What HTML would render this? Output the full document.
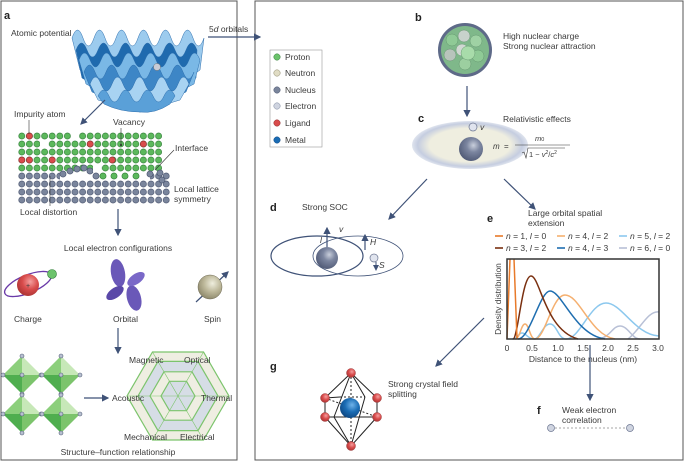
<!DOCTYPE html>
<html><head><meta charset="utf-8"><style>
html,body{margin:0;padding:0;background:#fff}
svg{display:block}
text{font-family:"Liberation Sans",sans-serif;font-size:8.5px;fill:#3a3a3a}
.b{font-weight:bold;font-size:11px;fill:#222}
</style></head><body>
<svg width="685" height="461" viewBox="0 0 685 461" xmlns="http://www.w3.org/2000/svg">
<defs>
<marker id="ar" markerWidth="6" markerHeight="6" refX="5" refY="3" orient="auto"><path d="M0,0 L6,3 L0,6 z" fill="#3f5277"/></marker>
<pattern id="gp" x="18" y="132" width="7.6" height="8" patternUnits="userSpaceOnUse"><circle cx="3.8" cy="4" r="3.1" fill="#5cb85c" stroke="#2f7a36" stroke-width="0.6"/></pattern>
<pattern id="bp" x="18" y="172" width="7.6" height="8" patternUnits="userSpaceOnUse"><circle cx="3.8" cy="4" r="3.1" fill="#7a859c" stroke="#46506a" stroke-width="0.6"/></pattern>
<radialGradient id="nuc" cx="0.6" cy="0.35" r="0.7"><stop offset="0" stop-color="#c9cfdc"/><stop offset="0.4" stop-color="#7c86a0"/><stop offset="1" stop-color="#4e5874"/></radialGradient>
<radialGradient id="met" cx="0.6" cy="0.35" r="0.7"><stop offset="0" stop-color="#6fb3ea"/><stop offset="0.5" stop-color="#1a6cb4"/><stop offset="1" stop-color="#0e4680"/></radialGradient>
<radialGradient id="red" cx="0.6" cy="0.35" r="0.7"><stop offset="0" stop-color="#f4a0a0"/><stop offset="0.5" stop-color="#d94c4c"/><stop offset="1" stop-color="#a83232"/></radialGradient>
<radialGradient id="spin" cx="0.6" cy="0.35" r="0.7"><stop offset="0" stop-color="#efeede"/><stop offset="0.5" stop-color="#bdb89a"/><stop offset="1" stop-color="#8a8568"/></radialGradient>
<radialGradient id="halo" cx="0.5" cy="0.5" r="0.5"><stop offset="0.7" stop-color="#efeee0"/><stop offset="0.9" stop-color="#c5cde0"/><stop offset="1" stop-color="#dfe4ee"/></radialGradient>
</defs>

<!-- panel borders -->
<rect x="1" y="1" width="236" height="459" fill="none" stroke="#555" stroke-width="1"/>
<rect x="255" y="1" width="428" height="459" fill="none" stroke="#555" stroke-width="1"/>

<!-- ===== Panel a ===== -->
<text x="4" y="19" class="b">a</text>
<text x="11" y="36">Atomic potential</text>
<text x="209" y="32">5<tspan font-style="italic">d</tspan> orbitals</text>
<line x1="208" y1="37" x2="260" y2="37" stroke="#3f5277" stroke-width="1.2" marker-end="url(#ar)"/>

<!-- wavy potential -->
<g stroke="#2e6fae" stroke-width="0.5">
<path d="M72,38 Q77.5,22 83,38 T94,38 T105,38 T116,38 T127,38 T138,38 T149,38 T160,38 T171,38 T182,38 T193,38 T204,38 L200,70 L140,112 L80,70 Z" fill="#9ccbee"/>
<path d="M76,50 Q81.5,36 87,50 T98,50 T109,50 T120,50 T131,50 T142,50 T153,50 T164,50 T175,50 T186,50 T197,50 L196,78 L140,112 L82,78 Z" fill="#1f6aae"/>
<path d="M79,60 Q84.5,46 90,60 T101,60 T112,60 T123,60 T134,60 T145,60 T156,60 T167,60 T178,60 T189,60 T200,60 L194,84 L140,112 L86,84 Z" fill="#7ab8e6"/>
<path d="M84,72 Q89.5,58 95,72 T106,72 T117,72 T128,72 T139,72 T150,72 T161,72 T172,72 T183,72 T194,72 L186,92 L140,112 L92,92 Z" fill="#3d86c6"/>
<path d="M90,84 Q95.5,70 101,84 T112,84 T123,84 T134,84 T145,84 T156,84 T167,84 T178,84 T189,84 L180,100 L140,112 L98,100 Z" fill="#a8d3f2"/>
<path d="M98,96 Q103.5,84 109,96 T120,96 T131,96 T142,96 T153,96 T164,96 T175,96 L170,104 Q155,114 140,112 Q120,112 104,104 Z" fill="#5aa0d8"/>
</g>
<circle cx="157" cy="67" r="3.5" fill="#c8ccd6" stroke="#777" stroke-width="0.5"/>
<line x1="105" y1="100" x2="81" y2="124" stroke="#3f5277" stroke-width="1.2" marker-end="url(#ar)"/>

<!-- lattice -->
<rect x="18" y="132" width="144" height="40" fill="url(#gp)"/>
<rect x="18" y="172" width="152" height="32" fill="url(#bp)"/>
<rect x="60" y="172" width="90" height="8" fill="#fff"/>
<g fill="#7a859c" stroke="#46506a" stroke-width="0.6">
<circle cx="63" cy="174" r="3.1"/><circle cx="70" cy="171" r="3.1"/><circle cx="77" cy="169" r="3.1"/><circle cx="84" cy="168" r="3.1"/><circle cx="90" cy="171" r="3.1"/><circle cx="96" cy="176" r="3.1"/><circle cx="150" cy="174" r="3.1"/><circle cx="160" cy="173" r="3.1"/><circle cx="162" cy="180" r="3.1"/>
</g>
<g fill="#5cb85c" stroke="#2f7a36" stroke-width="0.6"><circle cx="103" cy="176" r="3.1"/><circle cx="114" cy="176" r="3.1"/><circle cx="125" cy="176" r="3.1"/><circle cx="136" cy="176" r="3.1"/></g>
<g fill="#d94c4c" stroke="#8a2a2a" stroke-width="0.6">
<circle cx="29.4" cy="136" r="3.1"/><circle cx="90.2" cy="144" r="3.1"/><circle cx="143.4" cy="144" r="3.1"/><circle cx="21.8" cy="160" r="3.1"/><circle cx="29.4" cy="160" r="3.1"/><circle cx="52.2" cy="160" r="3.1"/><circle cx="112.2" cy="160" r="3.1"/>
</g>
<g fill="#fff"><rect x="71" y="132" width="8" height="8"/><rect x="40" y="140" width="8" height="8"/><rect x="93" y="164" width="8" height="8"/></g>
<circle cx="121" cy="145" r="1" fill="#222"/>
<line x1="29" y1="120" x2="29" y2="134" stroke="#333" stroke-width="0.6"/>
<line x1="121" y1="128" x2="121" y2="145" stroke="#333" stroke-width="0.6"/>
<line x1="174" y1="150" x2="155" y2="170" stroke="#333" stroke-width="0.6"/>
<line x1="50" y1="176" x2="50" y2="206" stroke="#333" stroke-width="0.6"/>
<text x="14" y="117">Impurity atom</text>
<text x="113" y="125">Vacancy</text>
<text x="175" y="151">Interface</text>
<text x="174" y="192">Local lattice</text>
<text x="174" y="202">symmetry</text>
<text x="20" y="215">Local distortion</text>
<line x1="118" y1="209" x2="118" y2="235" stroke="#3f5277" stroke-width="1.2" marker-end="url(#ar)"/>
<text x="118" y="251" text-anchor="middle">Local electron configurations</text>

<!-- charge -->
<ellipse cx="28" cy="284" rx="25" ry="9" fill="none" stroke="#6a3aa8" stroke-width="1.3" transform="rotate(-22 28 284)"/>
<circle cx="28" cy="285" r="11" fill="url(#red)"/>
<text x="26" y="288" style="font-size:7px">+</text>
<circle cx="52" cy="274" r="4.5" fill="#6cc36c" stroke="#2f7a36" stroke-width="0.6"/>
<text x="14" y="322">Charge</text>
<!-- orbital -->
<g fill="#6a58b8">
<ellipse cx="118" cy="273" rx="7" ry="14" transform="rotate(-10 118 273)"/>
<ellipse cx="134" cy="298" rx="7" ry="13" transform="rotate(-15 134 298)"/>
<ellipse cx="115" cy="293" rx="5" ry="10" transform="rotate(55 115 293)" fill="#5a48a8"/>
<ellipse cx="136" cy="279" rx="5" ry="10" transform="rotate(55 136 279)" fill="#7a68c8"/>
</g>
<text x="113" y="322">Orbital</text>
<!-- spin -->
<line x1="196" y1="302" x2="228" y2="272" stroke="#3f5277" stroke-width="1.2" marker-end="url(#ar)"/>
<circle cx="210" cy="287" r="12" fill="url(#spin)" stroke="#6b6650" stroke-width="0.5"/>
<text x="204" y="322">Spin</text>
<line x1="118" y1="328" x2="118" y2="353" stroke="#3f5277" stroke-width="1.2" marker-end="url(#ar)"/>

<!-- octahedra -->
<g id="oct">
<polygon points="22,356 3,375 22,375" fill="#8ccf7c"/>
<polygon points="22,356 41,375 22,375" fill="#c7e8b8"/>
<polygon points="3,375 22,394 22,375" fill="#4fae4f"/>
<polygon points="41,375 22,394 22,375" fill="#7cc46c"/>
<g fill="#b8c0d0" stroke="#55607a" stroke-width="0.6"><circle cx="22" cy="356" r="2"/><circle cx="3" cy="375" r="2"/><circle cx="41" cy="375" r="2"/><circle cx="22" cy="394" r="2"/><circle cx="22" cy="375" r="2"/></g>
</g>
<use href="#oct" x="39" y="0"/><use href="#oct" x="0" y="39"/><use href="#oct" x="39" y="39"/>
<line x1="84" y1="398" x2="108" y2="398" stroke="#3f5277" stroke-width="1.2" marker-end="url(#ar)"/>

<!-- hexagon -->
<g stroke="#7cc46c" stroke-width="1.2">
<polygon points="229,396 203.5,352 152.5,352 127,396 152.5,440 203.5,440" fill="#efeee2"/>
<polygon points="218,396 198,361.4 158,361.4 138,396 158,430.6 198,430.6" fill="#d6dde6"/>
<polygon points="206,396 192,371.8 164,371.8 150,396 164,420.2 192,420.2" fill="#efeee2"/>
<polygon points="195,396 186.5,381.3 169.5,381.3 161,396 169.5,410.7 186.5,410.7" fill="#d6dde6"/>
<path d="M127,396 L229,396 M152.5,352 L203.5,440 M203.5,352 L152.5,440" fill="none" stroke-width="0.6"/>
</g>
<text x="129" y="363">Magnetic</text>
<text x="184" y="363">Optical</text>
<text x="112" y="401">Acoustic</text>
<text x="201" y="401">Thermal</text>
<text x="124" y="440">Mechanical</text>
<text x="180" y="440">Electrical</text>
<text x="118" y="455" text-anchor="middle">Structure–function relationship</text>

<!-- ===== Right panel ===== -->
<!-- legend -->
<rect x="270" y="50" width="52" height="97" fill="#fff" stroke="#999" stroke-width="0.6"/>
<circle cx="277" cy="57" r="3.2" fill="#6cc36c" stroke="#2f7a36" stroke-width="0.5"/><text x="285" y="60">Proton</text>
<circle cx="277" cy="73" r="3.2" fill="#e0dcc4" stroke="#8a8568" stroke-width="0.5"/><text x="285" y="76">Neutron</text>
<circle cx="277" cy="90" r="3.2" fill="#7a859c" stroke="#46506a" stroke-width="0.5"/><text x="285" y="93">Nucleus</text>
<circle cx="277" cy="106" r="3.2" fill="#cfd4e0" stroke="#7a859c" stroke-width="0.5"/><text x="285" y="109">Electron</text>
<circle cx="277" cy="123" r="3.2" fill="#d94c4c" stroke="#8a2a2a" stroke-width="0.5"/><text x="285" y="126">Ligand</text>
<circle cx="277" cy="140" r="3.2" fill="#1a6cb4" stroke="#0e4680" stroke-width="0.5"/><text x="285" y="143">Metal</text>

<!-- b -->
<text x="415" y="21" class="b">b</text>
<circle cx="465" cy="50" r="27" fill="#5e6a88"/>
<circle cx="465" cy="50" r="24" fill="#7fb88a"/>
<g stroke="#5a8a66" stroke-width="0.4">
<circle cx="452" cy="40" r="6" fill="#8fca96"/><circle cx="464" cy="36" r="6" fill="#c8d2cc"/><circle cx="476" cy="41" r="6" fill="#9fd2a4"/><circle cx="450" cy="55" r="6" fill="#b8c4bc"/><circle cx="478" cy="56" r="6" fill="#8fca96"/><circle cx="462" cy="50" r="6" fill="#d0d8d2"/><circle cx="465" cy="64" r="6" fill="#9ccfa0"/><circle cx="468" cy="53" r="7" fill="#a8dcaa"/>
</g>
<text x="503" y="39">High nuclear charge</text>
<text x="503" y="49">Strong nuclear attraction</text>
<line x1="467" y1="86" x2="467" y2="116" stroke="#3f5277" stroke-width="1.2" marker-end="url(#ar)"/>

<!-- c -->
<text x="418" y="122" class="b">c</text>
<text x="503" y="122">Relativistic effects</text>
<ellipse cx="470" cy="145" rx="58" ry="24" fill="url(#halo)"/>
<circle cx="471" cy="149" r="12" fill="url(#nuc)"/>
<circle cx="473" cy="127" r="4" fill="#e0e4ee" stroke="#6b7590" stroke-width="0.7"/>
<text x="480" y="130" font-style="italic">v</text>
<text x="493" y="149" font-style="italic" style="font-size:8px">m</text>
<text x="504" y="149" style="font-size:8px">=</text>
<text x="535" y="141" font-style="italic" style="font-size:7.5px">m<tspan style="font-size:5.5px" font-style="normal">0</tspan></text>
<line x1="515" y1="145" x2="570" y2="145" stroke="#333" stroke-width="0.6"/>
<path d="M522,153 L524,152 L526,158 L528,148 L565,148" fill="none" stroke="#333" stroke-width="0.6"/>
<text x="529" y="157" style="font-size:7.5px">1 − <tspan font-style="italic">v</tspan><tspan style="font-size:5px" dy="-3">2</tspan><tspan dy="3">/</tspan><tspan font-style="italic">c</tspan><tspan style="font-size:5px" dy="-3">2</tspan></text>
<line x1="427" y1="179" x2="389" y2="219" stroke="#3f5277" stroke-width="1.2" marker-end="url(#ar)"/>
<line x1="504" y1="179" x2="535" y2="209" stroke="#3f5277" stroke-width="1.2" marker-end="url(#ar)"/>

<!-- d -->
<text x="270" y="211" class="b">d</text>
<text x="302" y="210">Strong SOC</text>
<ellipse cx="317" cy="256" rx="46" ry="20" fill="none" stroke="#3f5277" stroke-width="1.2"/>
<ellipse cx="358" cy="256" rx="45" ry="20" fill="none" stroke="#3f5277" stroke-width="0.8"/>
<circle cx="327" cy="258" r="11" fill="url(#nuc)"/>
<line x1="327" y1="247" x2="327" y2="228" stroke="#3f5277" stroke-width="1.2" marker-end="url(#ar)"/>
<text x="320" y="243" font-style="italic">l</text>
<text x="339" y="232" font-style="italic">v</text>
<line x1="365" y1="250" x2="365" y2="235" stroke="#3f5277" stroke-width="1.2" marker-end="url(#ar)"/>
<text x="370" y="245" font-style="italic">H</text>
<circle cx="374" cy="258" r="4" fill="#e0e4ee" stroke="#6b7590" stroke-width="0.7"/>
<line x1="376" y1="262" x2="376" y2="270" stroke="#3f5277" stroke-width="1" marker-end="url(#ar)"/>
<text x="379" y="268" font-style="italic">S</text>

<!-- e -->
<text x="487" y="222" class="b">e</text>
<text x="528" y="216">Large orbital spatial</text>
<text x="528" y="226">extension</text>
<g stroke-width="1.6">
<line x1="495" y1="236" x2="503" y2="236" stroke="#e87a2a"/>
<line x1="557" y1="236" x2="565" y2="236" stroke="#f5b070"/>
<line x1="619" y1="236" x2="627" y2="236" stroke="#8cc8ee"/>
<line x1="495" y1="248" x2="503" y2="248" stroke="#7a3010"/>
<line x1="557" y1="248" x2="565" y2="248" stroke="#1f6eb0"/>
<line x1="619" y1="248" x2="627" y2="248" stroke="#b8c0d6"/>
</g>
<g style="font-size:8px">
<text x="506" y="239"><tspan font-style="italic">n</tspan> = 1, <tspan font-style="italic">l</tspan> = 0</text>
<text x="568" y="239"><tspan font-style="italic">n</tspan> = 4, <tspan font-style="italic">l</tspan> = 2</text>
<text x="630" y="239"><tspan font-style="italic">n</tspan> = 5, <tspan font-style="italic">l</tspan> = 2</text>
<text x="506" y="251"><tspan font-style="italic">n</tspan> = 3, <tspan font-style="italic">l</tspan> = 2</text>
<text x="568" y="251"><tspan font-style="italic">n</tspan> = 4, <tspan font-style="italic">l</tspan> = 3</text>
<text x="630" y="251"><tspan font-style="italic">n</tspan> = 6, <tspan font-style="italic">l</tspan> = 0</text>
</g>
<g fill="none" stroke-width="1.5">
<path d="M596,339 C610,339 612,326 620,326 C628,326 632,339 640,339 M628,339 C640,330 648,310 659,312" stroke="#b8c0d6"/>
<path d="M512,339 C518,339 518,333 522,333 C526,333 528,339 534,339 C540,339 543,324 550,324 C557,324 558,339 566,339 C580,339 590,303 606,303 C622,303 635,335 659,336" stroke="#8cc8ee"/>
<path d="M515,339 C520,339 521,324 525,324 C529,324 530,339 535,339 C545,339 552,295 565,295 C580,295 590,335 615,339" stroke="#f5b070"/>
<path d="M518,339 C530,339 540,291 550,291 C562,291 575,335 605,339" stroke="#1f6eb0"/>
<path d="M513,339 C518,339 522,276 531,276 C540,276 545,330 578,339" stroke="#7a3010"/>
<path d="M507,339 L510,259 M514,259 L517,339" stroke="#e87a2a"/>
</g>
<rect x="507" y="259" width="152" height="80" fill="none" stroke="#333" stroke-width="1.5"/>
<g style="font-size:8px" text-anchor="middle">
<text x="507" y="351">0</text><text x="532" y="351">0.5</text><text x="558" y="351">1.0</text><text x="583" y="351">1.5</text><text x="608" y="351">2.0</text><text x="633" y="351">2.5</text><text x="658" y="351">3.0</text>
<text x="583" y="362">Distance to the nucleus (nm)</text>
<text x="0" y="0" transform="translate(501,299) rotate(-90)">Density distribution</text>
</g>
<line x1="484" y1="318" x2="436" y2="366" stroke="#3f5277" stroke-width="1.2" marker-end="url(#ar)"/>
<line x1="590" y1="345" x2="590" y2="400" stroke="#3f5277" stroke-width="1.2" marker-end="url(#ar)"/>

<!-- g -->
<text x="270" y="370" class="b">g</text>
<text x="388" y="387">Strong crystal field</text>
<text x="388" y="397">splitting</text>
<g stroke="#222" stroke-width="1" fill="none">
<path d="M351,373 L325,398 L325,417 L351,446 L377,417 L377,398 Z M351,373 L334,417 M351,373 L365,397 M325,417 L377,417 M325,398 L340,397 M334,417 L351,446 M365,397 L351,446"/>
<path d="M351,373 L351,446 M325,398 L377,417 M340,397 L365,397" stroke-dasharray="2,2"/>
</g>
<circle cx="350" cy="408" r="10" fill="url(#met)"/>
<g fill="url(#red)" stroke="#8a2a2a" stroke-width="0.4">
<circle cx="351" cy="373" r="4.5"/><circle cx="325" cy="398" r="4.5"/><circle cx="325" cy="417" r="4.5"/><circle cx="377" cy="398" r="4.5"/><circle cx="377" cy="417" r="4.5"/><circle cx="351" cy="446" r="4.5"/>
</g>

<!-- f -->
<text x="537" y="414" class="b">f</text>
<text x="562" y="413">Weak electron</text>
<text x="562" y="423">correlation</text>
<line x1="555" y1="428" x2="626" y2="428" stroke="#888" stroke-width="0.7" stroke-dasharray="2,2"/>
<circle cx="551" cy="428" r="3.5" fill="#cfd4e0" stroke="#6b7590" stroke-width="0.7"/>
<circle cx="630" cy="428" r="3.5" fill="#cfd4e0" stroke="#6b7590" stroke-width="0.7"/>
</svg>
</body></html>
